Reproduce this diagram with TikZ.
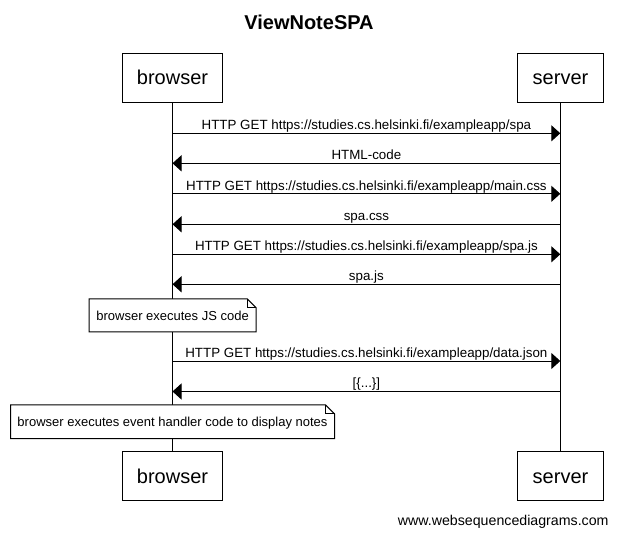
\documentclass[tikz,border=0pt]{standalone}
\usepackage{fontspec}
\setmainfont{Liberation Sans}
\usetikzlibrary{arrows.meta}
\tikzset{
  party/.style={draw, line width=1pt, fill=white, inner sep=0pt, font=\fontsize{20}{24}\selectfont, text height=14.3pt, text depth=0pt, minimum height=49pt},
  life/.style={line width=1pt},
  msg/.style={line width=1pt, -{Triangle[length=9pt,width=16pt]}},
  lbl/.style={anchor=base, yshift=3.6pt, inner sep=0pt, font=\fontsize{13.35}{15}\selectfont},
  notebox/.style={inner sep=0pt, font=\fontsize{13}{15}\selectfont, text height=9.3pt, text depth=0pt},
  noteline/.style={draw, line width=1pt, fill=white},
}
\newcommand{\dognote}[1]{%
  \path[noteline] (#1.north west) -- ([xshift=-9pt]#1.north east) -- ([yshift=-9pt]#1.north east) -- (#1.south east) -- (#1.south west) -- cycle;
  \draw[line width=1pt] ([xshift=-9pt]#1.north east) -- ([xshift=-9pt,yshift=-9pt]#1.north east) -- ([yshift=-9pt]#1.north east);
}
\begin{document}
\begin{tikzpicture}[x=1pt,y=-1pt]
\useasboundingbox[fill=white] (0,0) rectangle (618,534);

\node[anchor=base, font=\bfseries\fontsize{20}{24}\selectfont] (title) at (309,30) {ViewNoteSPA};

\node[party, minimum width=99.6pt] (bt) at (172.5,77.8) {browser};
\node[party, minimum width=85.6pt] (st) at (560.5,77.8) {server};
\node[party, minimum width=99.6pt] (bb) at (172.5,476.2) {browser};
\node[party, minimum width=85.6pt] (sb) at (560.5,476.2) {server};

\draw[life] (bt.south) -- (bb.north);
\draw[life] (st.south) -- (sb.north);

% message coordinates
\foreach \i/\y in {1/133.3,2/163.3,3/193.8,4/224.3,5/254.3,6/284.3,7/361,8/391.5}{
  \coordinate (b\i) at (172.5,\y);
  \coordinate (s\i) at (560.3,\y);
}

\draw[msg] (b1) -- node[lbl] {HTTP GET https://studies.cs.helsinki.fi/exampleapp/spa} (s1);
\draw[msg] (s2) -- node[lbl] {HTML-code} (b2);
\draw[msg] (b3) -- node[lbl] {HTTP GET https://studies.cs.helsinki.fi/exampleapp/main.css} (s3);
\draw[msg] (s4) -- node[lbl] {spa.css} (b4);
\draw[msg] (b5) -- node[lbl] {HTTP GET https://studies.cs.helsinki.fi/exampleapp/spa.js} (s5);
\draw[msg] (s6) -- node[lbl] {spa.js} (b6);

\path node[notebox, minimum width=166.7pt, minimum height=32.7pt] (n1) at (172.6,315.35) {};
\dognote{n1}
\node[notebox] (n1t) at (n1) {browser executes JS code};

\draw[msg] (b7) -- node[lbl] {HTTP GET https://studies.cs.helsinki.fi/exampleapp/data.json} (s7);
\draw[msg] (s8) -- node[lbl] {[\{...\}]} (b8);

\path node[notebox, minimum width=323.6pt, minimum height=33.3pt] (n2) at (172.5,421.65) {};
\dognote{n2}
\node[notebox] (n2t) at (n2) {browser executes event handler code to display notes};

\node[anchor=base east, inner sep=0pt, font=\fontsize{14.2}{16}\selectfont] (foot) at (608.8,525) {www.websequencediagrams.com};
\end{tikzpicture}
\end{document}
